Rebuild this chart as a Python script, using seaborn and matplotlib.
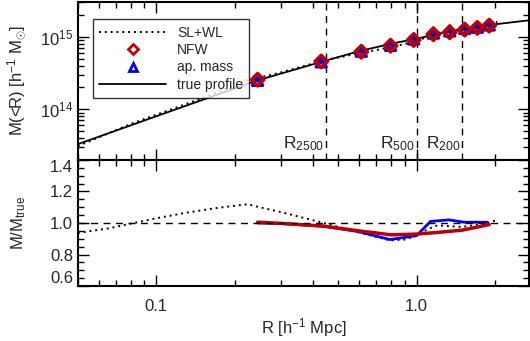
import numpy as np
import pandas as pd
import matplotlib
matplotlib.use("Agg")
import matplotlib.pyplot as plt
import seaborn as sns
from matplotlib.ticker import FixedLocator, NullFormatter, MultipleLocator, LogLocator

# values
r_true = [0.05, 0.1, 0.245, 0.45, 0.6, 0.8, 1.0, 1.3, 1.6, 2.0, 2.7]
m_true = [3.3e13, 8.0e13, 2.5e14, 4.7e14, 6.3e14, 8.0e14, 9.4e14, 1.15e15, 1.3e15, 1.48e15, 1.68e15]

r_slwl = [0.05, 0.08, 0.1, 0.15, 0.224, 0.3, 0.44, 0.6, 0.79, 1.0, 1.2, 1.5, 1.87, 2.04]
m_slwl = [3.1e13, 6.3e13, 8.4e13, 1.42e14, 2.5e14, 3.2e14, 4.7e14, 5.9e14, 7.1e14, 8.7e14,
          1.12e15, 1.27e15, 1.48e15, 1.6e15]

r_pts = [0.245, 0.43, 0.613, 0.794, 0.974, 1.16, 1.34, 1.53, 1.71, 1.90]
m_nfw = [2.55e14, 4.55e14, 6.2e14, 7.5e14, 9.0e14, 1.08e15, 1.15e15, 1.25e15, 1.32e15, 1.42e15]
e_nfw = [0.04, 0.05, 0.06, 0.07, 0.08, 0.09, 0.1, 0.1, 0.1, 0.11]
m_ap = [2.5e14, 4.5e14, 6.3e14, 7.6e14, 9.3e14, 1.12e15, 1.2e15, 1.30e15, 1.35e15, 1.45e15]
e_ap = [0.06, 0.07, 0.09, 0.1, 0.12, 0.13, 0.15, 0.15, 0.15, 0.16]

r_q_slwl = [0.05, 0.065, 0.082, 0.1, 0.13, 0.17, 0.224, 0.25, 0.3, 0.44, 0.6, 0.79, 0.9,
            1.0, 1.1, 1.2, 1.5, 1.87, 2.04]
q_slwl = [0.937, 0.965, 1.0, 1.03, 1.065, 1.095, 1.119, 1.10, 1.07, 1.0, 0.94, 0.89, 0.895,
          0.92, 0.96, 0.985, 0.975, 1.0, 1.02]
r_q_nfw = [0.245, 0.3, 0.44, 0.6, 0.8, 1.0, 1.2, 1.5, 1.9]
q_nfw = [1.005, 0.998, 0.98, 0.95, 0.925, 0.93, 0.94, 0.955, 0.99]
r_q_ap = [0.245, 0.3, 0.44, 0.6, 0.79, 1.0, 1.13, 1.33, 1.52, 1.87]
q_ap = [1.0, 0.997, 0.98, 0.945, 0.895, 0.92, 1.01, 1.02, 1.005, 1.005]

r_over = [0.45, 1.0, 1.5]
over_labels = ["R$_{2500}$", "R$_{500}$", "R$_{200}$"]

sns.set_style("ticks")
plt.rcParams["font.family"] = ["Liberation Sans", "DejaVu Sans"]
plt.rcParams["mathtext.fontset"] = "custom"
plt.rcParams["mathtext.rm"] = "Liberation Sans"
plt.rcParams["mathtext.it"] = "Liberation Sans"

RED = "#c00000"
BLUE = "#0000ff"

fig = plt.figure(figsize=(5.3, 3.41), dpi=100)
ax1 = fig.add_axes([0.147, 0.531, 0.851, 0.463])
ax2 = fig.add_axes([0.147, 0.161, 0.851, 0.370], sharex=ax1)

# top panel
sns.lineplot(x=r_slwl, y=m_slwl, ax=ax1, color="black", lw=1.4, linestyle=(0, (1, 2)),
             label="SL+WL", sort=False)
ax1.errorbar(r_pts, m_ap, yerr=np.array(e_ap) * np.array(m_ap), fmt="none", ecolor=BLUE,
             elinewidth=2.5, capsize=0)
sns.scatterplot(x=r_pts, y=m_ap, ax=ax1, marker="^", s=55, facecolor="none",
                edgecolor=BLUE, linewidth=2.2, zorder=4)
ax1.errorbar(r_pts, m_nfw, yerr=np.array(e_nfw) * np.array(m_nfw), fmt="none", ecolor=RED,
             elinewidth=2.5, capsize=0)
sns.scatterplot(x=r_pts, y=m_nfw, ax=ax1, marker="D", s=40, facecolor="none",
                edgecolor=RED, linewidth=2.5, zorder=5)
sns.lineplot(x=r_true, y=m_true, ax=ax1, color="black", lw=1.3, sort=False)

ax1.plot([], [], marker="D", ls="none", mfc="none", mec=RED, mew=2, ms=5, label="NFW")
ax1.plot([], [], marker="^", ls="none", mfc="none", mec=BLUE, mew=2, ms=6, label="ap. mass")
ax1.plot([], [], color="black", lw=1.3, label="true profile")

for r, lab in zip(r_over, over_labels):
    ax1.axvline(r, color="black", lw=1, ls=(0, (5, 4)))
    ax1.text(r * 0.985, 2.5e13, lab, ha="right", va="bottom", fontsize=12.5)

ax1.set_xscale("log")
ax1.set_yscale("log")
ax1.set_xlim(0.05, 2.7)
ax1.set_ylim(2e13, 3e15)
ax1.set_ylabel("M(<R) [h$^{-1}$ M$_{\\odot}$]", fontsize=12)
handles, labels = ax1.get_legend_handles_labels()
order = [labels.index(k) for k in ["SL+WL", "NFW", "ap. mass", "true profile"]]
leg = ax1.legend([handles[i] for i in order], [labels[i] for i in order],
                 loc="upper left", bbox_to_anchor=(0.018, 0.935), fontsize=10,
                 frameon=True, fancybox=False, handlelength=4.8, borderpad=0.45,
                 labelspacing=0.25, markerfirst=True)
leg.get_frame().set_edgecolor("black")
leg.get_frame().set_linewidth(1)
plt.setp(ax1.get_xticklabels(), visible=False)

# bottom panel
sns.lineplot(x=r_q_slwl, y=q_slwl, ax=ax2, color="black", lw=1.4, linestyle=(0, (1, 2)), sort=False)
sns.lineplot(x=r_q_ap, y=q_ap, ax=ax2, color=BLUE, lw=2, sort=False)
sns.lineplot(x=r_q_nfw, y=q_nfw, ax=ax2, color=RED, lw=2.5, sort=False)
ax2.axhline(1.0, color="black", lw=1, ls=(0, (5, 4)))
ax2.set_ylim(0.6, 1.4)
ax2.set_ylabel("M/M$_{true}$", fontsize=12)
ax2.set_xlabel("R [h$^{-1}$ Mpc]", fontsize=12, labelpad=2)
ax2.yaxis.set_major_locator(FixedLocator([0.6, 0.8, 1.0, 1.2, 1.4]))
ax2.yaxis.set_minor_locator(MultipleLocator(0.05))
ax2.set_yticklabels(["0.6", "0.8", "1.0", "1.2", "1.4"])
ax2.xaxis.set_major_locator(FixedLocator([0.1, 1.0]))
ax2.set_xticklabels(["0.1", "1.0"])
ax2.xaxis.set_minor_locator(LogLocator(base=10, subs=np.arange(2, 10)))
ax2.xaxis.set_minor_formatter(NullFormatter())

for ax in (ax1, ax2):
    for s in ax.spines.values():
        s.set_linewidth(1.5)
        s.set_color("black")
    ax.tick_params(which="both", direction="in", top=True, right=True, labelsize=12,
                   color="black", width=1)
    ax.tick_params(which="major", length=8)
    ax.tick_params(which="minor", length=4)
    ax.tick_params(axis="x", pad=9)
    ax.yaxis.set_label_coords(-0.11, 0.5)

# keep end labels inside the lower panel, as in the reference
ylabs = ax2.yaxis.get_majorticklabels()
ylabs[0].set_va("bottom")
ylabs[-1].set_va("top")

fig.savefig("out.png", dpi=100)
